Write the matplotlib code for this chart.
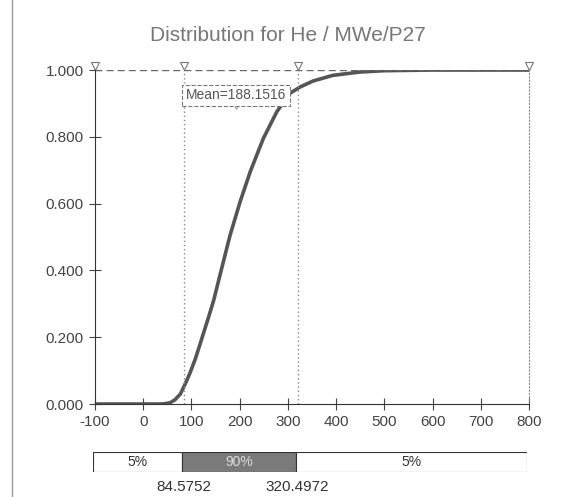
import matplotlib.pyplot as plt

plt.rcParams['font.family'] = ['Liberation Sans', 'DejaVu Sans']
plt.rcParams['axes.unicode_minus'] = False

# 累积分布曲线
x_vals = [-100, 0, 35, 45, 56, 66, 77, 87, 97, 108, 118, 135, 146, 159, 180,
          201, 222, 249, 277, 304, 325, 352, 393, 449, 500, 600, 800]
cdf_vals = [0, 0, 0, 0.001, 0.004, 0.013, 0.03, 0.06, 0.093, 0.135, 0.18,
            0.258, 0.31, 0.385, 0.505, 0.606, 0.696, 0.795, 0.875, 0.93, 0.949,
            0.967, 0.984, 0.994, 0.998, 1.0, 1.0]
x_ticks = [-100, 0, 100, 200, 300, 400, 500, 600, 700, 800]
y_ticks = [0, 0.2, 0.4, 0.6, 0.8, 1.0]
lo, hi = 84.5752, 320.4972
mean = 188.1516
pct_labels = ['5%', '90%', '5%']

fig = plt.figure(figsize=(5.68, 4.97), dpi=100)
ax = fig.add_axes([0.1673, 0.1871, 0.764, 0.672])

ax.plot(x_vals, cdf_vals, color='#555555', lw=2.6, solid_capstyle='round')
ax.axvline(lo, color='#888888', lw=1, ls=(0, (1, 2)))
ax.axvline(hi, color='#888888', lw=1, ls=(0, (1, 2)))
ax.axhline(1.0, color='#666666', lw=1, ls=(0, (5, 3)))

# 顶部小三角
for xm in [-100, lo, hi, 800]:
    ax.plot(xm, 1.012, marker='v', ms=6, mfc='white', mec='#777777', mew=0.8,
            clip_on=False)
ax.plot(mean + 5, 0.893, marker='v', ms=4, mfc='white', mec='#999999', mew=0.7)
ax.text(mean + 4, 0.925, 'Mean=%.4f' % mean, ha='center', va='center',
        fontsize=10, color='#555555',
        bbox=dict(boxstyle='square,pad=0.25', fc='white', ec='#777777',
                  lw=0.8, ls='--'))

ax.set_xlim(-100, 800)
ax.set_ylim(0, 1.0)
ax.set_xticks(x_ticks)
ax.set_yticks(y_ticks)
ax.set_yticklabels(['%.3f' % v for v in y_ticks])
ax.tick_params(direction='inout', length=9, width=0.8, colors='#444444',
               labelsize=11, labelcolor='#444444')
ax.spines['top'].set_visible(False)
ax.spines['right'].set_linestyle((0, (1, 2)))
ax.spines['right'].set_color('#888888')
ax.spines['left'].set_color('#333333')
ax.spines['bottom'].set_color('#333333')

fig.text(0.507, 0.928, 'Distribution for He / MWe/P27', ha='center',
         va='center', fontsize=15, color='#777777')

# 底部百分比条
bx = fig.add_axes([0.164, 0.0503, 0.764, 0.0402])
edges = [-100, lo, hi, 800]
colors = ['white', '#7a7a7a', 'white']
for i in range(3):
    bx.barh(0, edges[i + 1] - edges[i], left=edges[i], height=1,
            color=colors[i], edgecolor='#333333', lw=0.8)
    bx.text((edges[i] + edges[i + 1]) / 2, 0, pct_labels[i], ha='center',
            va='center', fontsize=10,
            color='#dddddd' if i == 1 else '#333333')
bx.set_xlim(-100, 800)
bx.set_ylim(-0.5, 0.5)
bx.axis('off')
fig.text(0.324, 0.02, '84.5752', ha='center', va='center', fontsize=11,
         color='#333333')
fig.text(0.523, 0.02, '320.4972', ha='center', va='center', fontsize=11,
         color='#333333')

# 扫描页左边框
fig.add_artist(plt.Line2D([0.021, 0.021], [0.0, 1.0], color='#999999', lw=1))

plt.savefig('out.png', dpi=100)
